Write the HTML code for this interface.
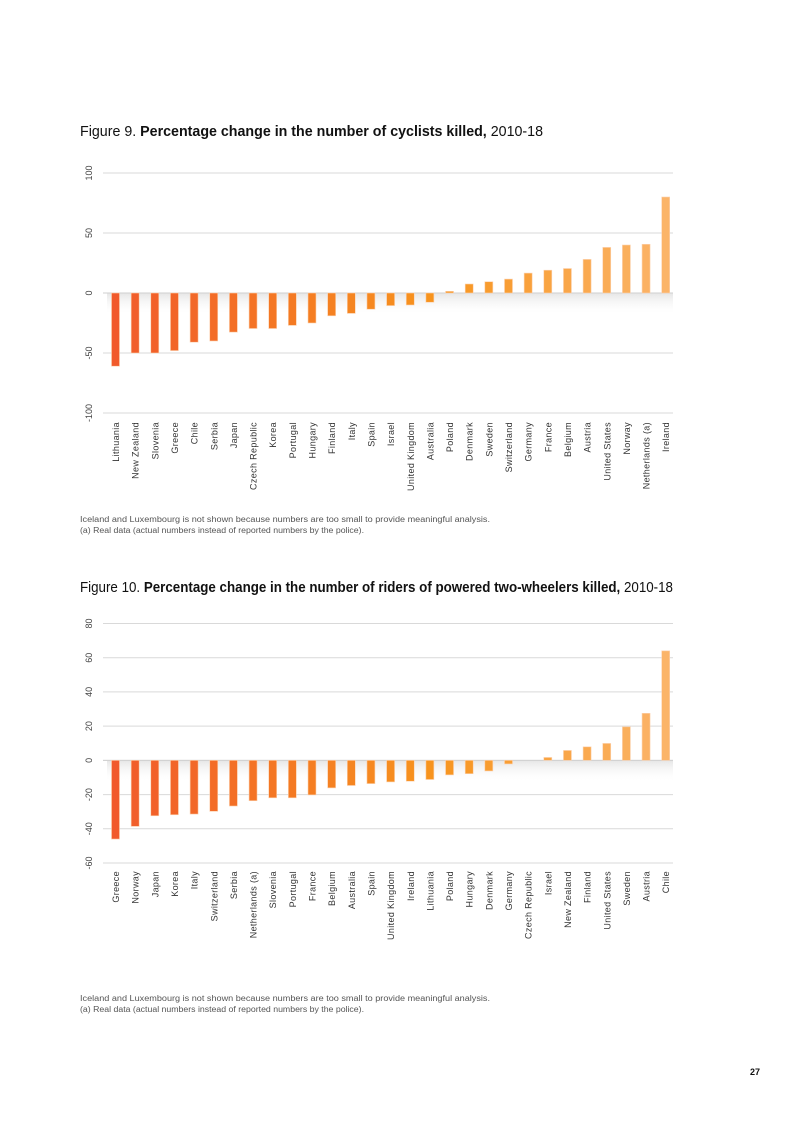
<!DOCTYPE html>
<html><head><meta charset="utf-8"><style>
html,body{margin:0;padding:0;background:#fff;}
svg{display:block;font-family:"Liberation Sans",sans-serif;}
</style></head><body>
<svg id="page" width="793" height="1122" viewBox="0 0 793 1122" xmlns="http://www.w3.org/2000/svg">
<defs>
<linearGradient id="shade" x1="0" y1="0" x2="0" y2="1"><stop offset="0" stop-color="#e6e6e6"/><stop offset="1" stop-color="#fff" stop-opacity="0"/></linearGradient>
</defs>
<text x="80" y="136" font-size="15" textLength="463" lengthAdjust="spacingAndGlyphs" fill="#111">Figure 9. <tspan font-weight="bold">Percentage change in the number of cyclists killed,</tspan> 2010-18</text>
<g id="c1"></g>
<text x="80" y="522" font-size="8" fill="#555" textLength="410" lengthAdjust="spacingAndGlyphs">Iceland and Luxembourg is not shown because numbers are too small to provide meaningful analysis.</text>
<text x="80" y="533" font-size="8" fill="#555" textLength="284" lengthAdjust="spacingAndGlyphs">(a) Real data (actual numbers instead of reported numbers by the police).</text>
<text x="80" y="592" font-size="15" textLength="593" lengthAdjust="spacingAndGlyphs" fill="#111">Figure 10. <tspan font-weight="bold">Percentage change in the number of riders of powered two-wheelers killed,</tspan> 2010-18</text>
<g id="c2"></g>
<text x="80" y="1001" font-size="8" fill="#555" textLength="410" lengthAdjust="spacingAndGlyphs">Iceland and Luxembourg is not shown because numbers are too small to provide meaningful analysis.</text>
<text x="80" y="1012" font-size="8" fill="#555" textLength="284" lengthAdjust="spacingAndGlyphs">(a) Real data (actual numbers instead of reported numbers by the police).</text>
<text x="760" y="1075" font-size="9" font-weight="bold" text-anchor="end" fill="#111">27</text>
</svg>
<script>
const cats1 = ["Lithuania","New Zealand","Slovenia","Greece","Chile","Serbia","Japan","Czech Republic","Korea","Portugal","Hungary","Finland","Italy","Spain","Israel","United Kingdom","Australia","Poland","Denmark","Sweden","Switzerland","Germany","France","Belgium","Austria","United States","Norway","Netherlands (a)","Ireland"];
const vals1 = [-61,-50,-50,-48,-41,-40,-32.6,-29.6,-29.6,-27,-25,-19,-17,-13.5,-10.5,-10,-7.7,1.4,7.5,9.4,11.6,16.6,19,20.4,28,38,40,40.6,80];
const ticks1 = [100,50,0,-50,-100];
const cats2 = ["Greece","Norway","Japan","Korea","Italy","Switzerland","Serbia","Netherlands (a)","Slovenia","Portugal","France","Belgium","Australia","Spain","United Kingdom","Ireland","Lithuania","Poland","Hungary","Denmark","Germany","Czech Republic","Israel","New Zealand","Finland","United States","Sweden","Austria","Chile"];
const vals2 = [-46,-38.6,-32.4,-31.8,-31.4,-29.8,-26.7,-23.6,-21.9,-21.9,-20.2,-16.1,-14.7,-13.6,-12.6,-12.2,-11.2,-8.5,-7.8,-6.2,-2.1,0,1.7,5.8,7.9,9.9,19.6,27.5,64];
const ticks2 = [80,60,40,20,0,-20,-40,-60];

const NS = "http://www.w3.org/2000/svg";
function mk(tag, attrs, parent){const e=document.createElementNS(NS,tag);for(const k in attrs)e.setAttribute(k,attrs[k]);parent.appendChild(e);return e;}
function lerp(a,b,t){return a.map((v,i)=>Math.round(v+(b[i]-v)*t));}
function colorAt(i,n){const t=i/(n-1);const A=[241,90,43],B=[247,148,29],C=[251,180,105];
  const c=t<0.58?lerp(A,B,t/0.58):lerp(B,C,(t-0.58)/0.42);return "rgb("+c.join(",")+")";}

function draw(g, cats, vals, ticks, top, bottom, labelY){
  const vmax=ticks[0], vmin=ticks[ticks.length-1];
  const y = v => top + (vmax - v)/(vmax - vmin)*(bottom-top);
  const x = i => 115.5 + i*19.65;
  const x0=103, x1=673;
  ticks.forEach(t=>{
    const l=mk("line",{x1:x0,x2:x1,y1:y(t),y2:y(t),stroke:"#d9d9d9","stroke-width":1},g);
    
    
    const tx=mk("text",{x:0,y:0,"font-size":9,fill:"#444","text-anchor":"middle",transform:"translate(92,"+y(t)+") rotate(-90)"},g);
    tx.textContent=t;
    
    
  });
  const sh=mk("rect",{x:x0+4,y:y(0),width:x1-x0-4,height:22,fill:"url(#shade)"},g);
  
  
  const zl=mk("line",{x1:x0,x2:x1,y1:y(0),y2:y(0),stroke:"#cfcfcf","stroke-width":1},g);
  
  
  cats.forEach((c,i)=>{
    const v=vals[i];
    const ya=y(Math.max(v,0)), yb=y(Math.min(v,0));
    const r=mk("rect",{x:x(i)-4,y:ya,width:8,height:Math.max(yb-ya,0),fill:colorAt(i,cats.length),stroke:"#fcd2b0","stroke-width":0.6},g);
    
    
    const t=mk("text",{x:0,y:0,"font-size":9,"letter-spacing":0.35,fill:"#333","text-anchor":"end",transform:"translate("+(x(i)+3.5)+","+labelY+") rotate(-90)"},g);
    t.textContent=c;
    
    
  });
}
draw(document.getElementById('c1'),cats1,vals1,ticks1,173,413,422);
draw(document.getElementById('c2'),cats2,vals2,ticks2,623.5,863,871);
</script>
</body></html>
